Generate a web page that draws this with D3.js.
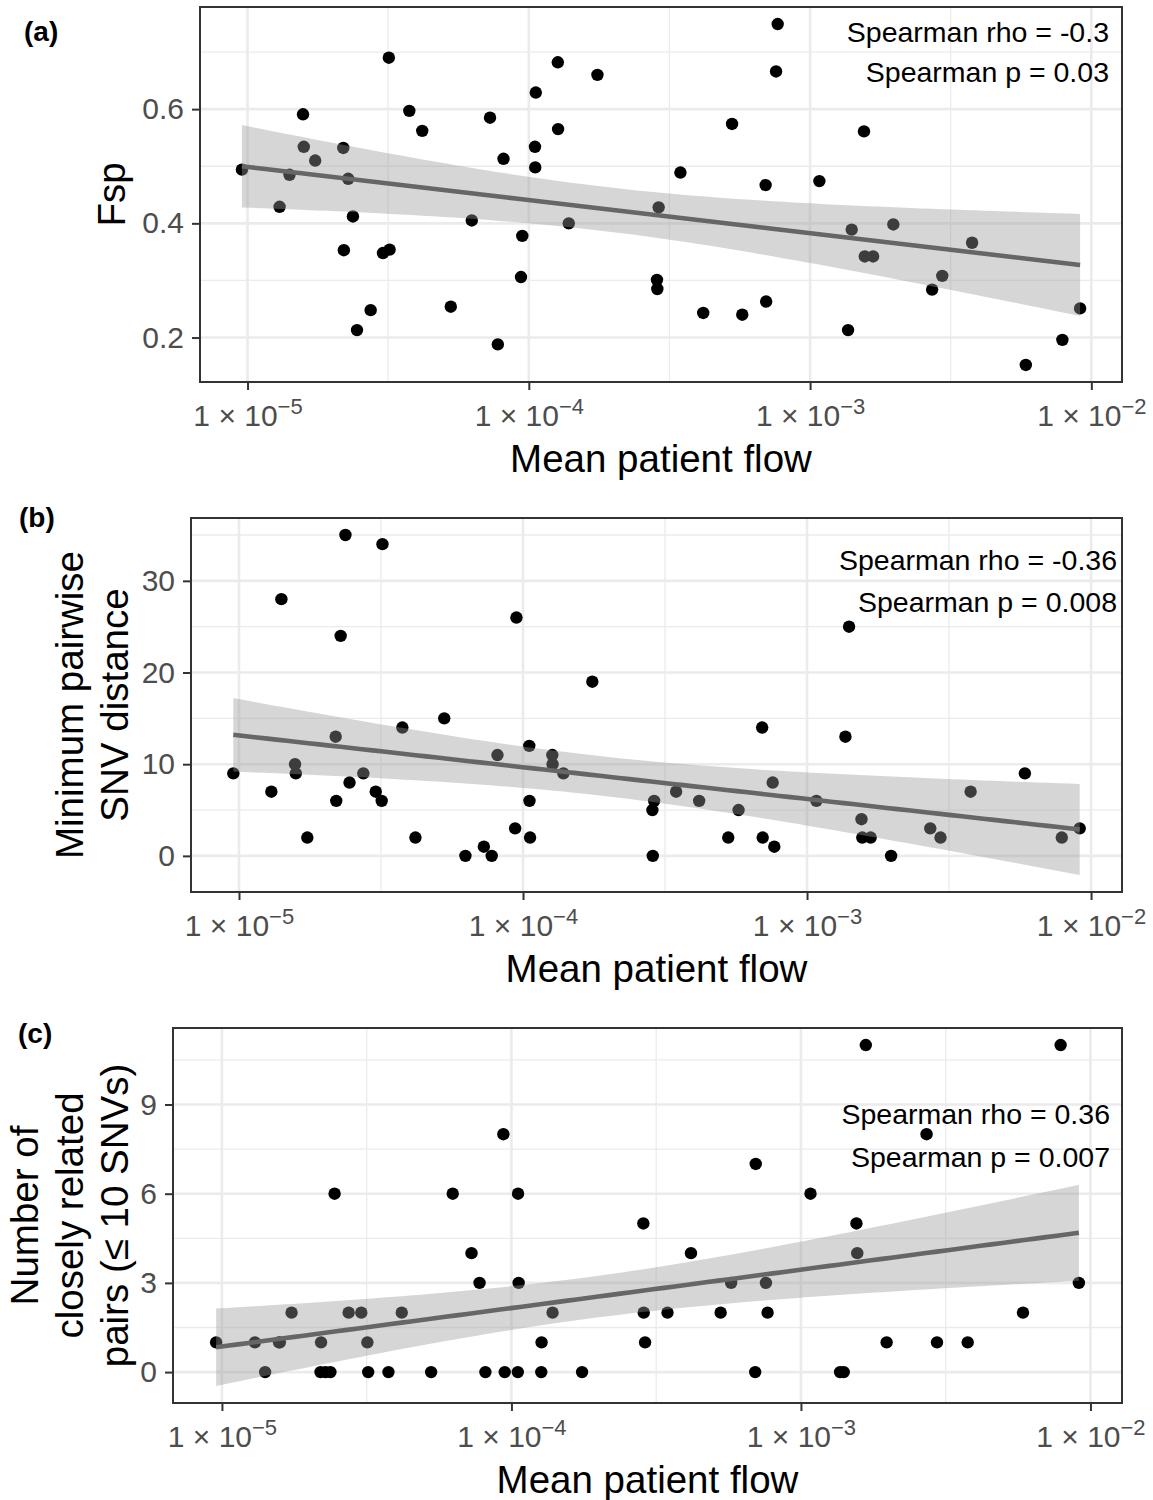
<!DOCTYPE html>
<html>
<head>
<meta charset="utf-8">
<script src="https://cdn.jsdelivr.net/npm/d3@7"></script>
<style>
  body { margin: 0; background: #fff; }
  svg { display: block; font-family: "Liberation Sans", Arial, sans-serif; }
</style>
</head>
<body>
<script>
// mean patient flow per ward (shared x for all three panels)
const flow = [
  9.55e-6, 1.30e-5, 1.41e-5, 1.575e-5, 1.585e-5, 1.74e-5, 2.19e-5, 2.20e-5, 2.28e-5, 2.37e-5,
  2.45e-5, 2.74e-5, 3.03e-5, 3.18e-5, 3.20e-5, 3.76e-5, 4.18e-5, 5.28e-5, 6.27e-5, 7.28e-5,
  7.76e-5, 8.13e-5, 9.38e-5, 9.48e-5, 1.052e-4, 1.054e-4, 1.059e-4, 1.268e-4, 1.271e-4, 1.387e-4,
  1.754e-4, 2.895e-4, 2.855e-4, 2.864e-4, 3.46e-4, 4.17e-4, 5.28e-4, 5.74e-4, 6.95e-4, 6.98e-4,
  7.57e-4, 7.67e-4, 1.079e-3, 1.365e-3, 1.406e-3, 1.555e-3, 1.565e-3, 1.675e-3, 1.977e-3, 2.716e-3,
  2.951e-3, 3.767e-3, 5.848e-3, 7.889e-3, 9.12e-3
];
const fsp = [
  0.494, 0.429, 0.485, 0.591, 0.534, 0.510, 0.532, 0.353, 0.478, 0.412,
  0.213, 0.248, 0.348, 0.690, 0.354, 0.597, 0.562, 0.254, 0.405, 0.585,
  0.188, 0.513, 0.306, 0.378, 0.534, 0.498, 0.629, 0.682, 0.565, 0.400,
  0.660, 0.428, 0.301, 0.285, 0.489, 0.243, 0.574, 0.240, 0.467, 0.263,
  0.666, 0.749, 0.474, 0.213, 0.389, 0.561, 0.342, 0.342, 0.398, 0.284,
  0.308, 0.366, 0.152, 0.196, 0.251
];
const minSnv = [
  9, 7, 28, 10, 9, 2, 13, 6, 24, 35,
  8, 9, 7, 6, 34, 14, 2, 15, 0, 1,
  0, 11, 3, 26, 12, 6, 2, 11, 10, 9,
  19, 6, 5, 0, 7, 6, 2, 5, 14, 2,
  8, 1, 6, 13, 25, 4, 2, 2, 0, 3,
  2, 7, 9, 2, 3
];
const closePairs = [
  1, 1, 0, 1, 1, 2, 0, 1, 0, 0,
  6, 2, 2, 1, 0, 0, 2, 0, 6, 4,
  3, 0, 8, 0, 0, 6, 3, 0, 1, 2,
  0, 1, 5, 2, 2, 4, 2, 3, 0, 7,
  3, 2, 6, 0, 0, 5, 4, 11, 1, 8,
  1, 1, 2, 11, 3
];

const xTicks = [1e-5, 1e-4, 1e-3, 1e-2];
const fspTicks = [0.2, 0.4, 0.6];
const snvTicks = [0, 10, 20, 30];
const pairTicks = [0, 3, 6, 9];

const fspStats = ['Spearman rho = -0.3', 'Spearman p = 0.03'];
const snvStats = ['Spearman rho = -0.36', 'Spearman p = 0.008'];
const pairStats = ['Spearman rho = 0.36', 'Spearman p = 0.007'];

const width = 1153, height = 1500;
const right = 1122;

const panels = [
  { tag: '(a)', values: fsp, yTicks: fspTicks, yTitle: ['Fsp'], stats: fspStats,
    left: 200, top: 7, bottom: 382, tagX: 24, tagY: 41,
    statX: 1109, statY: [41.5, 81.5], titleX: [125] },
  { tag: '(b)', values: minSnv, yTicks: snvTicks, yTitle: ['Minimum pairwise', 'SNV distance'], stats: snvStats,
    left: 191, top: 518, bottom: 892, tagX: 19, tagY: 527,
    statX: 1117, statY: [570, 612], titleX: [83, 128] },
  { tag: '(c)', values: closePairs, yTicks: pairTicks, yTitle: ['Number of', 'closely related', 'pairs (\u2264 10 SNVs)'], stats: pairStats,
    left: 173, top: 1028, bottom: 1403, tagX: 18, tagY: 1043,
    statX: 1110, statY: [1124, 1167], titleX: [38, 83, 128] }
];

const svg = d3.select('body')
  .append('svg')
  .attr('width', width)
  .attr('height', height);

svg.append('rect').attr('width', width).attr('height', height).attr('fill', '#fff');

panels.forEach(drawPanel);

function drawPanel(p) {
  const pts = flow.map((f, i) => ({ x: f, y: p.values[i] }));

  // linear fit of y on log10(x) with 95% band, like geom_smooth(method = "lm")
  const lx = pts.map(d => Math.log10(d.x));
  const n = pts.length;
  const mx = d3.mean(lx), my = d3.mean(pts, d => d.y);
  let sxx = 0, sxy = 0;
  lx.forEach((v, i) => { sxx += (v - mx) ** 2; sxy += (v - mx) * (pts[i].y - my); });
  const b1 = sxy / sxx, b0 = my - b1 * mx;
  const sse = d3.sum(pts, (d, i) => (d.y - (b0 + b1 * lx[i])) ** 2);
  const s = Math.sqrt(sse / (n - 2));
  const tq = 2.0057; // qt(0.975, 53)
  const [lo, hi] = d3.extent(lx);
  const fit = d3.range(80).map(k => {
    const v = lo + (hi - lo) * k / 79;
    const yh = b0 + b1 * v;
    const se = s * Math.sqrt(1 / n + (v - mx) ** 2 / sxx);
    return { x: Math.pow(10, v), y: yh, ymin: yh - tq * se, ymax: yh + tq * se };
  });

  const xpad = 0.05 * (hi - lo);
  const xScale = d3.scaleLog()
    .domain([Math.pow(10, lo - xpad), Math.pow(10, hi + xpad)])
    .range([p.left, right]);

  const ymin = Math.min(d3.min(pts, d => d.y), d3.min(fit, d => d.ymin));
  const ymax = Math.max(d3.max(pts, d => d.y), d3.max(fit, d => d.ymax));
  const ypad = 0.05 * (ymax - ymin);
  const yScale = d3.scaleLinear()
    .domain([ymin - ypad, ymax + ypad])
    .range([p.bottom, p.top]);

  const g = svg.append('g');

  // minor grid
  const [xd0, xd1] = xScale.domain();
  const xMinor = d3.range(-7, 0).map(k => Math.pow(10, k + 0.5))
    .filter(v => v > xd0 && v < xd1);
  const step = p.yTicks[1] - p.yTicks[0];
  const yMinor = d3.range(p.yTicks.length + 1).map(k => p.yTicks[0] - step / 2 + k * step)
    .filter(v => v > yScale.domain()[0] && v < yScale.domain()[1]);

  g.selectAll('.xminor').data(xMinor).enter().append('line')
    .attr('x1', d => xScale(d)).attr('x2', d => xScale(d))
    .attr('y1', p.top).attr('y2', p.bottom)
    .attr('stroke', '#ebebeb').attr('stroke-width', 1.3);
  g.selectAll('.yminor').data(yMinor).enter().append('line')
    .attr('x1', p.left).attr('x2', right)
    .attr('y1', d => yScale(d)).attr('y2', d => yScale(d))
    .attr('stroke', '#ebebeb').attr('stroke-width', 1.3);

  // major grid
  g.selectAll('.xmajor').data(xTicks).enter().append('line')
    .attr('x1', d => xScale(d)).attr('x2', d => xScale(d))
    .attr('y1', p.top).attr('y2', p.bottom)
    .attr('stroke', '#ebebeb').attr('stroke-width', 2.6);
  g.selectAll('.ymajor').data(p.yTicks).enter().append('line')
    .attr('x1', p.left).attr('x2', right)
    .attr('y1', d => yScale(d)).attr('y2', d => yScale(d))
    .attr('stroke', '#ebebeb').attr('stroke-width', 2.6);

  // points
  g.selectAll('circle').data(pts).enter().append('circle')
    .attr('cx', d => xScale(d.x))
    .attr('cy', d => yScale(d.y))
    .attr('r', 6.2)
    .attr('fill', '#000');

  // confidence band + fitted line
  g.append('path')
    .datum(fit)
    .attr('d', d3.area().x(d => xScale(d.x)).y0(d => yScale(d.ymin)).y1(d => yScale(d.ymax)))
    .attr('fill', '#999999')
    .attr('fill-opacity', 0.4);
  g.append('path')
    .datum(fit)
    .attr('d', d3.line().x(d => xScale(d.x)).y(d => yScale(d.y)))
    .attr('fill', 'none')
    .attr('stroke', '#666666')
    .attr('stroke-width', 4.6);

  // panel border
  g.append('rect')
    .attr('x', p.left).attr('y', p.top)
    .attr('width', right - p.left).attr('height', p.bottom - p.top)
    .attr('fill', 'none').attr('stroke', '#333333').attr('stroke-width', 2);

  // y axis
  const yAxis = g.append('g')
    .attr('transform', `translate(${p.left - 1}, 0)`)
    .call(d3.axisLeft(yScale).tickValues(p.yTicks).tickSize(7).tickPadding(8).tickFormat(d => String(d)));
  yAxis.select('.domain').remove();
  yAxis.selectAll('line').attr('stroke', '#333333').attr('stroke-width', 2);
  yAxis.selectAll('text')
    .attr('fill', '#4d4d4d')
    .attr('font-size', 30)
    .attr('font-family', '"Liberation Sans", Arial, sans-serif');

  // x axis with 1 x 10^k labels
  const xAxis = g.append('g')
    .attr('transform', `translate(0, ${p.bottom + 1})`)
    .call(d3.axisBottom(xScale).tickValues(xTicks).tickSize(7).tickFormat(() => ''));
  xAxis.select('.domain').remove();
  xAxis.selectAll('line').attr('stroke', '#333333').attr('stroke-width', 2);
  xAxis.selectAll('text').each(function (d) {
    const t = d3.select(this);
    t.text(null).attr('dy', null).attr('y', 43)
      .attr('fill', '#4d4d4d')
      .attr('font-size', 30)
      .attr('font-family', '"Liberation Sans", Arial, sans-serif');
    t.append('tspan').text('1 \u00d7 10');
    t.append('tspan').attr('dy', -12).attr('font-size', 22)
      .text('\u2212' + Math.round(-Math.log10(d)));
  });

  // x title
  g.append('text')
    .attr('x', (p.left + right) / 2)
    .attr('y', p.bottom + 90)
    .attr('text-anchor', 'middle')
    .attr('font-size', 38.5)
    .attr('fill', '#000')
    .text('Mean patient flow');

  // y title
  const cy = (p.top + p.bottom) / 2;
  p.yTitle.forEach((line, i) => {
    g.append('text')
      .attr('transform', `translate(${p.titleX[i]}, ${cy}) rotate(-90)`)
      .attr('text-anchor', 'middle')
      .attr('font-size', 38.5)
      .attr('fill', '#000')
      .text(line);
  });

  // spearman annotation
  p.stats.forEach((line, i) => {
    g.append('text')
      .attr('x', p.statX)
      .attr('y', p.statY[i])
      .attr('text-anchor', 'end')
      .attr('font-size', 28.5)
      .attr('fill', '#000')
      .text(line);
  });

  // panel tag
  g.append('text')
    .attr('x', p.tagX)
    .attr('y', p.tagY)
    .attr('font-size', 28)
    .attr('font-weight', 'bold')
    .attr('fill', '#000')
    .text(p.tag);
}
</script>
</body>
</html>
